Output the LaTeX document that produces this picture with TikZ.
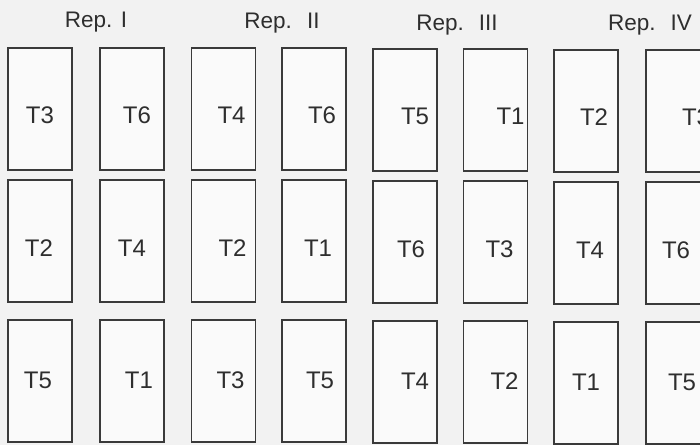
\documentclass[tikz,border=0pt]{standalone}
\usepackage{fontspec}
\setmainfont{Liberation Sans}
\definecolor{paper}{HTML}{F2F2F2}
\definecolor{ink}{HTML}{2E2E2E}
\definecolor{edge}{HTML}{3A3A3A}

\begin{document}
\begin{tikzpicture}[x=1pt, y=-1pt,
  plot/.style={
    draw=edge, line width=1.8pt, fill=white!60!paper,
    minimum width=64pt, minimum height=122pt, inner sep=0pt
  },
  tlbl/.style={font=\fontsize{24}{28}\selectfont, text=ink},
  replbl/.style={font=\fontsize{22.5}{26}\selectfont, text=ink, anchor=base},
]

% Background
\useasboundingbox (0,0) rectangle (700,445);
\fill[paper] (0,0) rectangle (700,445);
\clip (0,0) rectangle (700,445);

% =============================================
% Rep. I
% =============================================
\node[replbl] (rep1) at (96,27) {Rep. I};
\node[plot, label={[tlbl, yshift=-6pt]center:T3}] (r1a) at (40,109) {};
\node[plot, label={[tlbl, xshift=5pt, yshift=-6pt]center:T6}] (r1b) at (132,109) {};
\node[plot, label={[tlbl, xshift=-1pt, yshift=-7.5pt]center:T2}] (r1c) at (40,241) {};
\node[plot, label={[tlbl, yshift=-7.5pt]center:T4}] (r1d) at (132,241) {};
\node[plot, label={[tlbl, xshift=-2pt, yshift=1pt]center:T5}] (r1e) at (40,381) {};
\node[plot, label={[tlbl, xshift=7pt, yshift=1pt]center:T1}] (r1f) at (132,381) {};

% =============================================
% Rep. II
% =============================================
\node[replbl] (rep2) at (282,28) {Rep.\hspace{0.3em} II};
\node[plot, label={[tlbl, xshift=8pt, yshift=-6pt]center:T4}] (r2a) at (223.5,109) {};
\node[plot, label={[tlbl, xshift=8pt, yshift=-6pt]center:T6}] (r2b) at (314,109) {};
\node[plot, label={[tlbl, xshift=9pt, yshift=-7.5pt]center:T2}] (r2c) at (223.5,241) {};
\node[plot, label={[tlbl, xshift=4pt, yshift=-7.5pt]center:T1}] (r2d) at (314,241) {};
\node[plot, label={[tlbl, xshift=7pt, yshift=1pt]center:T3}] (r2e) at (223.5,381) {};
\node[plot, label={[tlbl, xshift=6pt, yshift=1pt]center:T5}] (r2f) at (314,381) {};

% =============================================
% Rep. III
% =============================================
\node[replbl] (rep3) at (457,30) {Rep.\hspace{0.3em} III};
\node[plot, label={[tlbl, xshift=10pt, yshift=-6pt]center:T5}] (r3a) at (405,110) {};
\node[plot, label={[tlbl, xshift=15pt, yshift=-6pt]center:T1}] (r3b) at (495.5,110) {};
\node[plot, label={[tlbl, xshift=6pt, yshift=-7.5pt]center:T6}] (r3c) at (405,242) {};
\node[plot, label={[tlbl, xshift=4pt, yshift=-7.5pt]center:T3}] (r3d) at (495.5,242) {};
\node[plot, label={[tlbl, xshift=10pt, yshift=1pt]center:T4}] (r3e) at (405,382) {};
\node[plot, label={[tlbl, xshift=9pt, yshift=1pt]center:T2}] (r3f) at (495.5,382) {};

% =============================================
% Rep. IV
% =============================================
\node[replbl] (rep4) at (650,30) {Rep.\hspace{0.3em} IV};
\node[plot, label={[tlbl, xshift=8pt, yshift=-6pt]center:T2}] (r4a) at (586,111) {};
\node[plot, label={[tlbl, xshift=18pt, yshift=-6pt]center:T3}] (r4b) at (678,111) {};
\node[plot, label={[tlbl, xshift=4pt, yshift=-7.5pt]center:T4}] (r4c) at (586,243) {};
\node[plot, label={[tlbl, xshift=-2pt, yshift=-7.5pt]center:T6}] (r4d) at (678,243) {};
\node[plot, label={[tlbl, yshift=1pt]center:T1}] (r4e) at (586,383) {};
\node[plot, label={[tlbl, xshift=4pt, yshift=1pt]center:T5}] (r4f) at (678,383) {};

\end{tikzpicture}
\end{document}
